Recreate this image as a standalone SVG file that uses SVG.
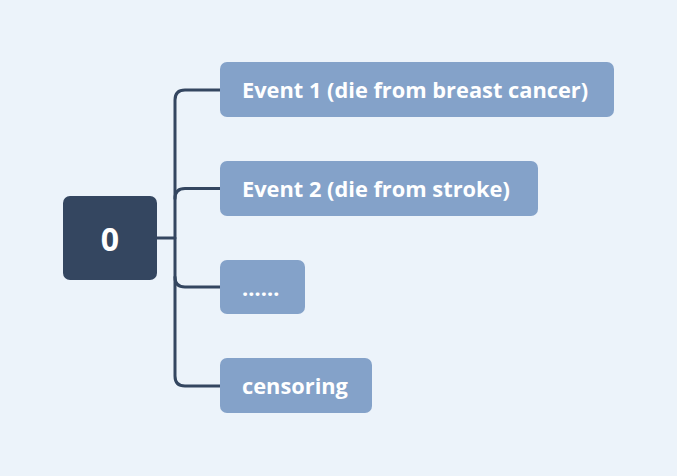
<svg xmlns="http://www.w3.org/2000/svg" width="677" height="476" viewBox="0 0 677 476">
<style>
.bg{fill:#ECF3FA}
.root{fill:#344660}
.box{fill:#84A2C9}
.lbl{font-family:"Open Sans","Liberation Sans",sans-serif;font-weight:bold;font-size:21.8px;fill:#FFFFFF}
.rlbl{font-family:"Open Sans","Liberation Sans",sans-serif;font-weight:bold;font-size:32px;fill:#FFFFFF}
.conn{fill:none;stroke:#344660;stroke-width:3;stroke-linecap:round}
</style>
<rect class="bg" x="0" y="0" width="677" height="476"/>
<g id="connectors">
<path class="conn" d="M157 238 H175"/>
<path class="conn" d="M220 90 H185 Q175 90 175 100 V376 Q175 386 185 386 H220"/>
<path class="conn" d="M220 188.5 H185 Q175 188.5 175 198.5"/>
<path class="conn" d="M220 287 H185 Q175 287 175 277"/>
</g>
<g id="node-root">
<rect class="root" x="63" y="196" width="94" height="84" rx="7"/>
<text class="rlbl" x="110" y="238" text-anchor="middle" dominant-baseline="central">0</text>
</g>
<g id="node-event1">
<rect class="box" x="220" y="62" width="394" height="55" rx="7"/>
<text class="lbl" x="242" y="89.5" dominant-baseline="central">Event 1 (die from breast cancer)</text>
</g>
<g id="node-event2">
<rect class="box" x="220" y="161" width="318" height="55" rx="7"/>
<text class="lbl" x="242" y="188.5" dominant-baseline="central">Event 2 (die from stroke)</text>
</g>
<g id="node-dots">
<rect class="box" x="220" y="260" width="85" height="54" rx="7"/>
<text class="lbl" x="242" y="287" dominant-baseline="central">……</text>
</g>
<g id="node-censoring">
<rect class="box" x="220" y="358" width="152" height="55" rx="7"/>
<text class="lbl" x="242" y="385.5" dominant-baseline="central">censoring</text>
</g>
</svg>
